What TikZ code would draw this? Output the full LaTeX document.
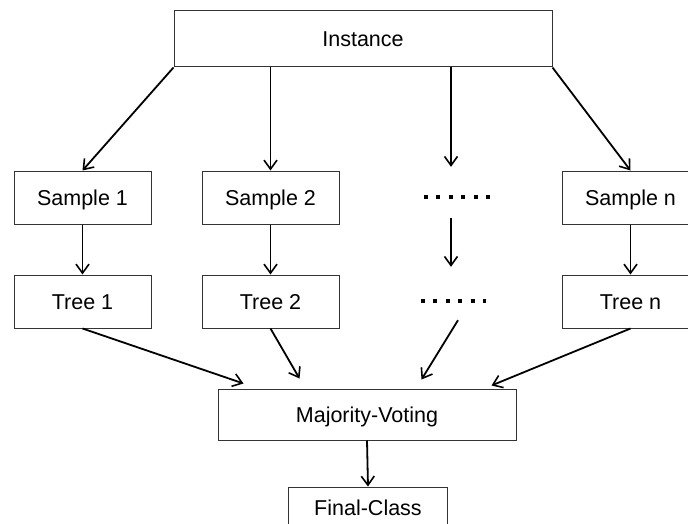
\documentclass[tikz,border=0pt]{standalone}
\usepackage{fontspec}
\setmainfont{Liberation Sans}
\usetikzlibrary{arrows.meta,calc}
\begin{document}
\begin{tikzpicture}[x=1pt,y=-1pt,
 box/.style={draw=black!80, line width=1pt, minimum width=137pt, minimum height=53pt, inner sep=0pt, font=\fontsize{21.5}{25}\selectfont, text=black, text depth=0pt, text height=15.4pt},
 arr/.style={line width=1.8pt, -{Straight Barb[length=9pt,width=13pt,line width=1.6pt]}},
 dotrow/.style={line width=4pt, dash pattern=on 4pt off 8.4pt},
 ghost/.style={inner sep=0pt, minimum width=0pt}]
\clip (0,0) rectangle (688,524);
\useasboundingbox (0,0) rectangle (688,524);
\node[box, minimum width=378pt, minimum height=56pt] (inst) at (363,39) {Instance};
\node[box] (s1) at (82.5,197.5) {Sample 1};
\node[box] (s2) at (270.5,197.5) {Sample 2};
\node[box] (sn) at (630.5,197.5) {Sample n};
\node[box] (t1) at (82.5,301.5) {Tree 1};
\node[box] (t2) at (270.5,301.5) {Tree 2};
\node[box] (tn) at (630.5,301.5) {Tree n};
\node[box, minimum width=298pt, minimum height=51pt] (mv) at (367,414.5) {Majority-Voting};
\node[box, minimum width=159pt, minimum height=42pt] (fc) at (368,508) {Final-Class};
\node[ghost, minimum height=51pt] (d1) at (451,192.5) {};
\draw[dotrow] ($(d1.center)+(-27,4.5)$) -- ++(66,0);
\node[ghost, minimum height=53pt] (d2) at (453.5,293.5) {};
\draw[dotrow] ($(d2.center)+(-32.5,7.5)$) -- ++(65,0);
\draw[arr] (inst.south west) -- (s1.north);
\draw[arr] (inst.south -| s2.north) -- (s2.north);
\draw[arr] (inst.south -| d1.north) -- (d1.north);
\draw[arr] (inst.south east) -- (sn.north);
\draw[arr] (s1.south) -- (t1.north);
\draw[arr] (s2.south) -- (t2.north);
\draw[arr] (d1.south) -- (d1.south |- d2.north);
\draw[arr] (sn.south) -- (tn.north);
\draw[arr] (t1.south) -- ($(mv.north west)+(26,-5)$);
\draw[arr] (t2.south) -- ($(mv.north west)+(82,-10)$);
\draw[arr] ($(d2.south)+(4.5,0)$) -- ($(mv.north west)+(204,-9)$);
\draw[arr] (tn.south) -- ($(mv.north west)+(274,-3)$);
\draw[arr] (mv.south) -- (fc.north);
\end{tikzpicture}
\end{document}
